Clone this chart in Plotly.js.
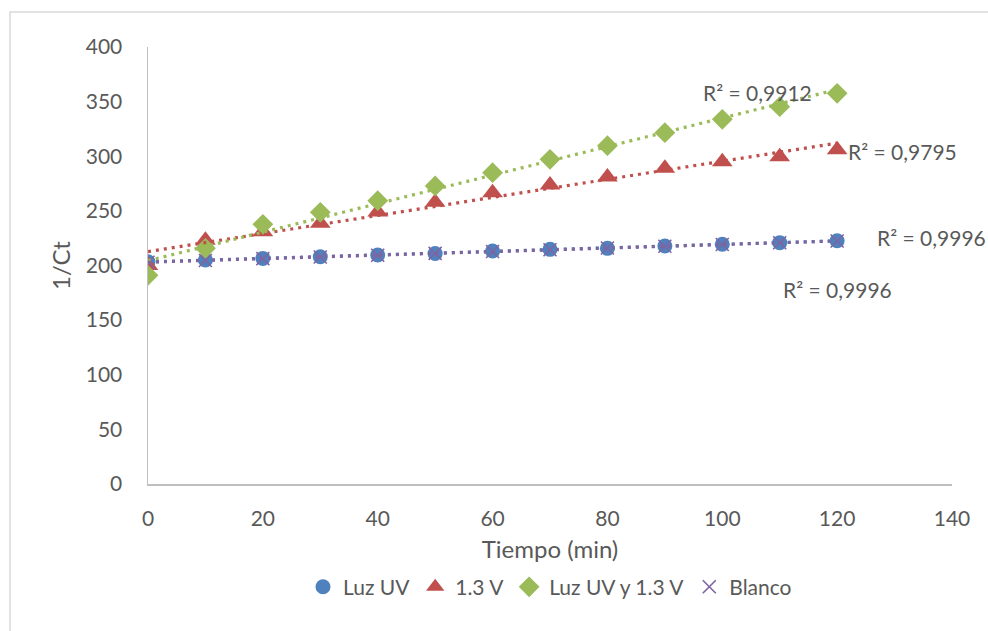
<!DOCTYPE html>
<html>
<head>
<meta charset="utf-8">
<script src="https://cdn.plot.ly/plotly-3.0.1.min.js"></script>
<style>
html,body{margin:0;padding:0;background:#fff;}
#chart{width:988px;height:631px;}
</style>
</head>
<body>
<div id="chart"></div>
<script>
const tiempo = [0,10,20,30,40,50,60,70,80,90,100,110,120];
const luzUV = [203.5,205,206.5,208,209.6,211,213.3,214.8,215.7,217.8,219.4,220.9,222.7];
const voltaje = [200,223,231,238.6,249,258,266.7,273.7,281,289,295,299.6,306];
const luzUVyVoltaje = [191,215.7,237.7,248.7,259.3,272.8,285,297.2,309.7,321.6,333.8,345.4,357.6];
const blanco = [203,204.6,206.3,207.8,209.4,211.1,212.8,214.4,216,217.6,219.2,220.8,222.4];

const seriesNames = ["Luz UV","1.3 V","Luz UV y 1.3 V","Blanco"];
const r2Labels = ["R² = 0,9996","R² = 0,9795","R² = 0,9912","R² = 0,9996"];

const colors = ["#4F81BD","#C0504D","#9BBB59","#8064A2"];
const seriesData = [luzUV, voltaje, luzUVyVoltaje, blanco];
const symbols = ["circle","triangle-up","diamond","x-thin-open"];
const sizes = [15,18,16,13];

function linfit(x,y){
  const n=x.length; let sx=0,sy=0,sxx=0,sxy=0;
  for(let i=0;i<n;i++){sx+=x[i];sy+=y[i];sxx+=x[i]*x[i];sxy+=x[i]*y[i];}
  const m=(n*sxy-sx*sy)/(n*sxx-sx*sx); const b=(sy-m*sx)/n; return [m,b];
}

const traces = [];
seriesData.forEach((ys,i)=>{
  const mk = {color:colors[i], size:sizes[i], symbol:symbols[i]};
  if(i===3){ mk.line={color:colors[i], width:1.6}; }
  traces.push({x:tiempo, y:ys, type:'scatter', mode:'markers', name:seriesNames[i], marker:mk});
});
seriesData.forEach((ys,i)=>{
  const [m,b]=linfit(tiempo,ys);
  const x0=tiempo[0], x1=tiempo[tiempo.length-1];
  traces.push({x:[x0,x1], y:[m*x0+b,m*x1+b], type:'scatter', mode:'lines', showlegend:false, hoverinfo:'skip',
    line:{color:colors[i], width:3.2, dash:'3px,5px'}});
});

const annPos = [[120.1,177.6],[131.3,303.9],[106.2,358.8],[136.5,226]];
const annotations = r2Labels.map((t,i)=>({x:annPos[i][0], y:annPos[i][1], xref:'x', yref:'y', text:t, showarrow:false,
  font:{family:'Lato, sans-serif', size:21, color:'#595959'}}));

const layout = {
  width:988, height:631,
  paper_bgcolor:'#fff', plot_bgcolor:'#fff',
  margin:{l:148, r:36, t:47, b:147},
  font:{family:'Lato, sans-serif', size:20, color:'#595959'},
  xaxis:{range:[0,140], dtick:20, tick0:0, showgrid:false, zeroline:false, showline:true, linecolor:'#BFBFBF', linewidth:1.5,
    ticks:'', ticklabelstandoff:15, tickfont:{size:21}, title:{text:'Tiempo (min)', standoff:12, font:{size:24, color:'#595959'}}},
  yaxis:{range:[0,400], dtick:50, tick0:0, showgrid:false, zeroline:false, showline:true, linecolor:'#BFBFBF', linewidth:1.5,
    ticks:'', ticklabelstandoff:20, tickfont:{size:21}, title:{text:'1/Ct', standoff:8, font:{size:24, color:'#595959'}}},
  legend:{orientation:'h', x:0.5, xanchor:'center', y:-0.236, yanchor:'middle', font:{size:21, color:'#595959'}, itemwidth:30, tracegroupgap:0},
  annotations: annotations,
  shapes:[{type:'rect', xref:'paper', yref:'paper', x0:-0.1716, x1:1.06, y0:-0.4, y1:1.080, line:{color:'#D9D9D9', width:1.5}, fillcolor:'rgba(0,0,0,0)', layer:'below'}]
};

Plotly.newPlot('chart', traces, layout, {displayModeBar:false, staticPlot:true});
</script>
</body>
</html>
